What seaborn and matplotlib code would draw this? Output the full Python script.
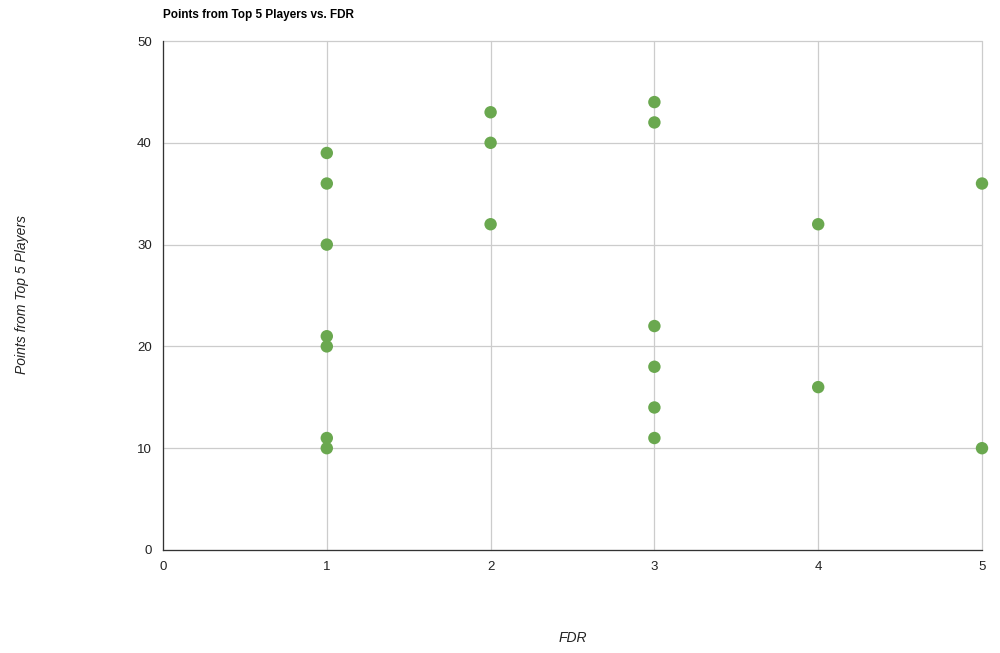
import pandas as pd
import matplotlib.pyplot as plt
import seaborn as sns

# data
fdr = [1, 1, 1, 1, 1, 1, 1, 2, 2, 2, 3, 3, 3, 3, 3, 3, 4, 4, 5, 5]
points = [39, 36, 30, 21, 20, 11, 10, 43, 40, 32, 44, 42, 22, 18, 14, 11, 32, 16, 36, 10]
x_ticks = [0, 1, 2, 3, 4, 5]
y_ticks = [0, 10, 20, 30, 40, 50]

df = pd.DataFrame({'FDR': fdr, 'Points': points})

sns.set_style('white')
plt.rcParams['font.family'] = ['Liberation Sans', 'DejaVu Sans']

fig = plt.figure(figsize=(10, 6.53), dpi=100)
ax = fig.add_axes([0.163, 1 - 550 / 653, 0.819, (550 - 41) / 653])

sns.scatterplot(data=df, x='FDR', y='Points', ax=ax, color='#6aa84f',
                s=80, edgecolor='none', clip_on=False, zorder=3)

ax.set_xlim(0, 5)
ax.set_ylim(0, 50)
ax.set_xticks(x_ticks)
ax.set_yticks(y_ticks)
ax.grid(True, color='#cccccc', linewidth=0.9)
ax.set_axisbelow(True)
for line in ax.get_xgridlines() + ax.get_ygridlines():
    line.set_clip_on(False)
for s in ['top', 'right']:
    ax.spines[s].set_visible(False)
for s in ['left', 'bottom']:
    ax.spines[s].set_color('#333333')
    ax.spines[s].set_linewidth(0.9)
ax.tick_params(axis='both', length=0, labelsize=9.5, colors='#222222', pad=8)

ax.set_xlabel('')
ax.set_ylabel('')
fig.text(0.573, 1 - 638 / 653, 'FDR', ha='center', va='center', fontsize=10, style='italic', color='#222222')
fig.text(0.022, 1 - 295 / 653, 'Points from Top 5 Players', ha='center', va='center',
         rotation=90, fontsize=10, style='italic', color='#222222')
fig.text(0.163, 1 - 15 / 653, 'Points from Top 5 Players vs. FDR', ha='left', va='center',
         fontsize=8.5, fontweight='bold', color='#000000')

fig.savefig('out.png', dpi=100)
